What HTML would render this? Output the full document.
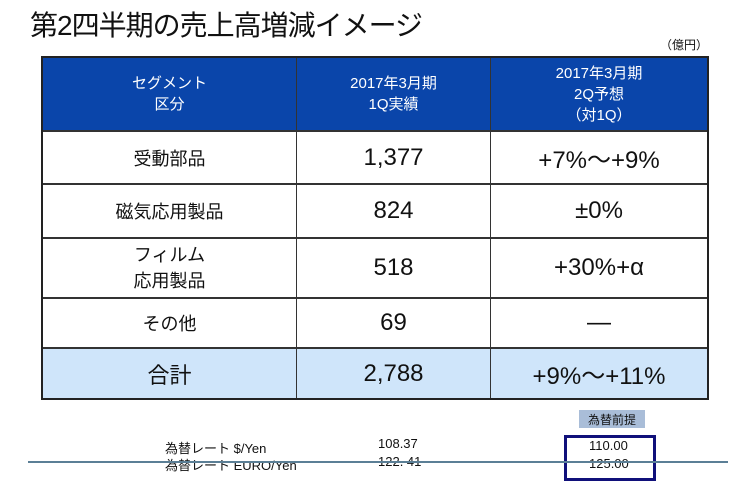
<!DOCTYPE html>
<html><head><meta charset="utf-8"><style>
body{margin:0;width:750px;height:490px;background:#fff;position:relative;overflow:hidden;font-family:"Liberation Sans","Noto Sans CJK JP",sans-serif;color:#111}
.a{position:absolute}
.c{position:absolute;display:flex;align-items:center;justify-content:center;text-align:center}
.h{color:#fff;font-size:15px;line-height:21px}
</style></head><body>
<div class="a" style="left:30px;top:4px;font-size:28px;letter-spacing:-1px">第2四半期の売上高増減イメージ</div>
<div class="a" style="left:660px;top:36px;font-size:12px">（億円）</div>
<div class="a" style="left:41px;top:56px;width:664px;height:340px;border:2px solid #222;background:#fff"></div>
<div class="a" style="left:43px;top:58px;width:664px;height:72px;background:#0a45aa"></div>
<div class="a" style="left:43px;top:348px;width:664px;height:50px;background:#cfe5fa"></div>
<div class="a" style="left:43px;top:130px;width:664px;height:2px;background:#333"></div>
<div class="a" style="left:43px;top:183px;width:664px;height:2px;background:#333"></div>
<div class="a" style="left:43px;top:237px;width:664px;height:2px;background:#333"></div>
<div class="a" style="left:43px;top:297px;width:664px;height:2px;background:#333"></div>
<div class="a" style="left:43px;top:347px;width:664px;height:2px;background:#333"></div>
<div class="a" style="left:296px;top:58px;width:1px;height:340px;background:#333"></div>
<div class="a" style="left:490px;top:58px;width:1px;height:340px;background:#333"></div>

<div class="c h" style="left:43px;top:58px;width:253px;height:72px">セグメント<br>区分</div>
<div class="c h" style="left:297px;top:58px;width:193px;height:72px">2017年3月期<br>1Q実績</div>
<div class="c h" style="left:491px;top:58px;width:216px;height:72px">2017年3月期<br>2Q予想<br>（対1Q）</div>

<div class="c" style="left:43px;top:131px;width:253px;height:53px;font-size:18px">受動部品</div>
<div class="c" style="left:297px;top:131px;width:193px;height:53px;font-size:24px">1,377</div>
<div class="c" style="left:491px;top:131px;width:216px;height:53px;font-size:24px">+7%～+9%</div>

<div class="c" style="left:43px;top:184px;width:253px;height:54px;font-size:18px">磁気応用製品</div>
<div class="c" style="left:297px;top:184px;width:193px;height:54px;font-size:24px">824</div>
<div class="c" style="left:491px;top:184px;width:216px;height:54px;font-size:24px">±0%</div>

<div class="c" style="left:43px;top:238px;width:253px;height:60px;font-size:18px;line-height:26px">フィルム<br>応用製品</div>
<div class="c" style="left:297px;top:238px;width:193px;height:60px;font-size:24px">518</div>
<div class="c" style="left:491px;top:238px;width:216px;height:60px;font-size:24px">+30%+α</div>

<div class="c" style="left:43px;top:298px;width:253px;height:50px;font-size:18px">その他</div>
<div class="c" style="left:297px;top:298px;width:193px;height:50px;font-size:24px">69</div>
<div class="c" style="left:491px;top:298px;width:216px;height:50px;font-size:24px">―</div>

<div class="c" style="left:43px;top:349px;width:253px;height:49px;font-size:22px">合計</div>
<div class="c" style="left:297px;top:349px;width:193px;height:49px;font-size:24px">2,788</div>
<div class="c" style="left:491px;top:349px;width:216px;height:49px;font-size:24px">+9%～+11%</div>

<div class="c" style="left:579px;top:410px;width:66px;height:18px;background:#a9bdd8;font-size:12px">為替前提</div>
<div class="a" style="left:165px;top:438px;font-size:13px">為替レート $/Yen</div>
<div class="a" style="left:165px;top:455px;font-size:13px">為替レート EURO/Yen</div>
<div class="a" style="left:378px;top:436px;font-size:13px">108.37</div>
<div class="a" style="left:378px;top:454px;font-size:13px">122. 41</div>
<div class="a" style="left:564px;top:435px;width:86px;height:40px;border:3px solid #10107a"></div>
<div class="a" style="left:589px;top:438px;font-size:13px">110.00</div>
<div class="a" style="left:589px;top:456px;font-size:13px">125.00</div>
<div class="a" style="left:28px;top:461px;width:700px;height:2px;background:#5b7f96"></div>
</body></html>
